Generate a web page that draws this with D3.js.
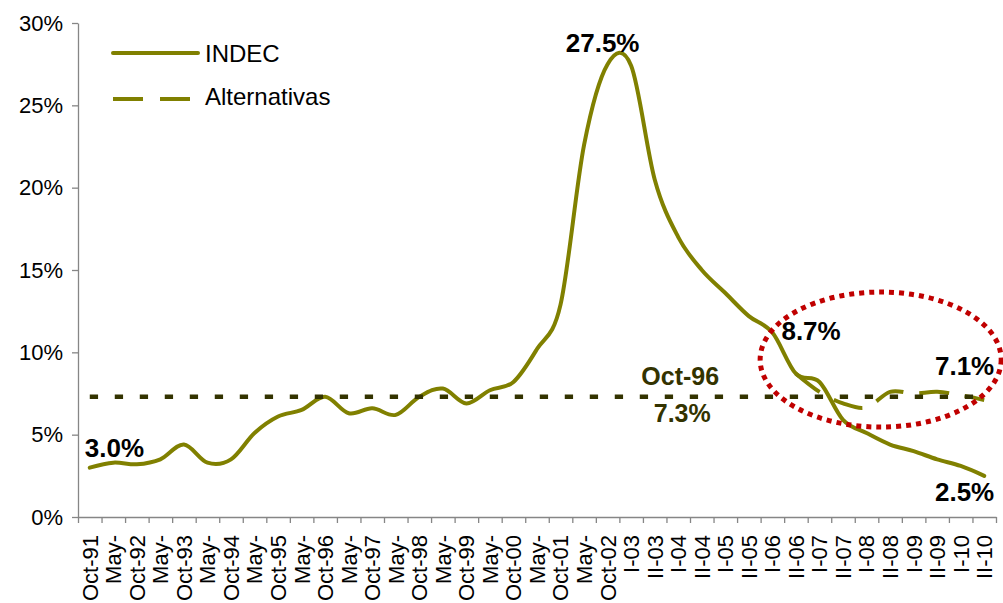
<!DOCTYPE html>
<html>
<head>
<meta charset="utf-8">
<script src="https://cdn.jsdelivr.net/npm/d3@7/dist/d3.min.js"></script>
<style>
  html, body { margin: 0; padding: 0; background: #fff; }
  svg { display: block; font-family: "Liberation Sans", Arial, sans-serif; }
</style>
</head>
<body>
<svg id="chart" width="1003" height="603"></svg>
<script>
// ---------- data ----------
const categories = ["Oct-91","May-","Oct-92","May-","Oct-93","May-","Oct-94","May-","Oct-95","May-",
  "Oct-96","May-","Oct-97","May-","Oct-98","May-","Oct-99","May-","Oct-00","May-",
  "Oct-01","May-","Oct-02","I-03","II-03","I-04","II-04","I-05","II-05","I-06",
  "II-06","I-07","II-07","I-08","II-08","I-09","II-09","I-10","II-10"];

const indecValues = [3.0,3.3,3.2,3.5,4.4,3.3,3.5,5.1,6.1,6.5,
  7.3,6.3,6.6,6.2,7.3,7.8,6.9,7.7,8.2,10.2,
  12.9,22.6,27.5,27.4,20.5,17.0,15.0,13.6,12.2,11.2,
  8.7,8.2,5.9,5.1,4.4,4.0,3.5,3.1,2.5];

const altValues = [null,null,null,null,null,null,null,null,null,null,
  null,null,null,null,null,null,null,null,null,null,
  null,null,null,null,null,null,null,null,null,null,
  8.7,7.6,6.9,6.65,7.6,7.5,7.6,7.4,7.1];

const refValue = 7.3;               // Oct-96 reference level
const yTicks = [0,5,10,15,20,25,30];
const seriesNames = ["INDEC","Alternativas"];

(function () {
// ---------- layout ----------
const svg = d3.select("#chart");
const mLeft = 78, mRight = 996, mTop = 23, mBottom = 517;
const olive = "#808000", dark = "#333300", red = "#C00000", axisGray = "#868686";

const idx = d3.range(categories.length);
const x = d3.scaleBand().domain(idx).range([mLeft, mRight]).padding(0);
const xc = i => x(i) + x.bandwidth() / 2;
const xl = d3.scaleLinear().domain([0, categories.length]).range([mLeft, mRight]);
const y = d3.scaleLinear().domain([0, 30]).range([mBottom, mTop]);

// ---------- axes ----------
const yAxis = svg.append("g").attr("transform", `translate(${mLeft},0)`)
  .call(d3.axisLeft(y).tickValues(yTicks).tickFormat(d => d + "%").tickSize(6).tickSizeOuter(0).tickPadding(9));
yAxis.selectAll("text").attr("font-size", 22).attr("fill", "#000").attr("font-family", "Liberation Sans, Arial, sans-serif");
yAxis.selectAll("line,path").attr("stroke", axisGray).attr("stroke-width", 1.3);

const xTicks = svg.append("g").attr("transform", `translate(0,${mBottom})`)
  .call(d3.axisBottom(xl).tickValues(d3.range(categories.length + 1)).tickFormat("").tickSize(6).tickSizeOuter(0));
xTicks.selectAll("line,path").attr("stroke", axisGray).attr("stroke-width", 1.3);

const xLabels = svg.append("g").attr("transform", `translate(0,${mBottom})`)
  .call(d3.axisBottom(x).tickFormat(i => categories[i]).tickSize(0));
xLabels.select(".domain").remove();
xLabels.selectAll("text")
  .attr("font-size", 22).attr("fill", "#000").attr("font-family", "Liberation Sans, Arial, sans-serif")
  .attr("text-anchor", "end").attr("transform", "rotate(-90)")
  .attr("x", -18).attr("y", 0).attr("dy", "0.36em");

// ---------- series ----------
const line = d3.line()
  .defined(d => d != null)
  .x((d, i) => xc(i))
  .y(d => y(d))
  .curve(d3.curveCardinal.tension(0));

svg.append("path").datum(indecValues)
  .attr("d", line).attr("fill", "none").attr("stroke", olive)
  .attr("stroke-width", 4).attr("stroke-linejoin", "round").attr("stroke-linecap", "round");

svg.append("path").datum(altValues)
  .attr("d", line).attr("fill", "none").attr("stroke", olive)
  .attr("stroke-width", 4).attr("stroke-dasharray", "30,16");

// reference dotted line at Oct-96 level
const refLine = d3.line().x((d, i) => xc(i)).y(() => y(refValue));
svg.append("path").datum(categories)
  .attr("d", refLine).attr("fill", "none").attr("stroke", dark)
  .attr("stroke-width", 4.5).attr("stroke-dasharray", "8.3,16.7");

// ---------- legend ----------
const legend = svg.append("g");
const legendRows = [{ name: seriesNames[0], dash: null, ly: 53, ty: 62 },
                    { name: seriesNames[1], dash: "30,17", ly: 99, ty: 105 }];
legendRows.forEach(r => {
  legend.append("line").attr("x1", 113).attr("x2", r.dash ? 193 : 198)
    .attr("y1", r.ly).attr("y2", r.ly)
    .attr("stroke", olive).attr("stroke-width", 4)
    .attr("stroke-linecap", r.dash ? "butt" : "round")
    .attr("stroke-dasharray", r.dash);
  legend.append("text").attr("x", 205).attr("y", r.ty)
    .attr("font-size", 24).attr("fill", "#000").text(r.name);
});

// ---------- annotations ----------
const last = categories.length - 1;
const ann = svg.append("g").attr("font-weight", "bold").attr("font-size", 26);
ann.append("text").attr("x", xc(0) - 5).attr("y", y(indecValues[0]) - 11).text(indecValues[0].toFixed(1) + "%");
ann.append("text").attr("x", xc(22) - 5).attr("y", y(indecValues[22]) - 12).attr("text-anchor", "middle").text(indecValues[22].toFixed(1) + "%");
ann.append("text").attr("x", xc(30) - 14.5).attr("y", y(indecValues[30]) - 34).text(indecValues[30].toFixed(1) + "%");
ann.append("text").attr("x", xc(last) + 10).attr("y", y(altValues[last]) - 25).attr("text-anchor", "end").text(altValues[last].toFixed(1) + "%");
ann.append("text").attr("x", xc(last) + 10).attr("y", y(indecValues[last]) + 25).attr("text-anchor", "end").text(indecValues[last].toFixed(1) + "%");
ann.append("text").attr("x", xc(25) + 2).attr("y", y(refValue) - 12).attr("text-anchor", "middle")
  .attr("fill", dark).attr("font-size", 25).text(categories[10]);
ann.append("text").attr("x", xc(25) + 4).attr("y", y(refValue) + 25).attr("text-anchor", "middle")
  .attr("fill", dark).attr("font-size", 25).text(refValue.toFixed(1) + "%");

// red dotted ellipse highlighting the divergence
svg.append("ellipse")
  .attr("cx", xl(34.1)).attr("cy", y(9.56))
  .attr("rx", x.bandwidth() * 5.12).attr("ry", y(0) - y(4.1))
  .attr("fill", "none").attr("stroke", red).attr("stroke-width", 5)
  .attr("stroke-dasharray", "5,5");
})();
</script>
</body>
</html>
